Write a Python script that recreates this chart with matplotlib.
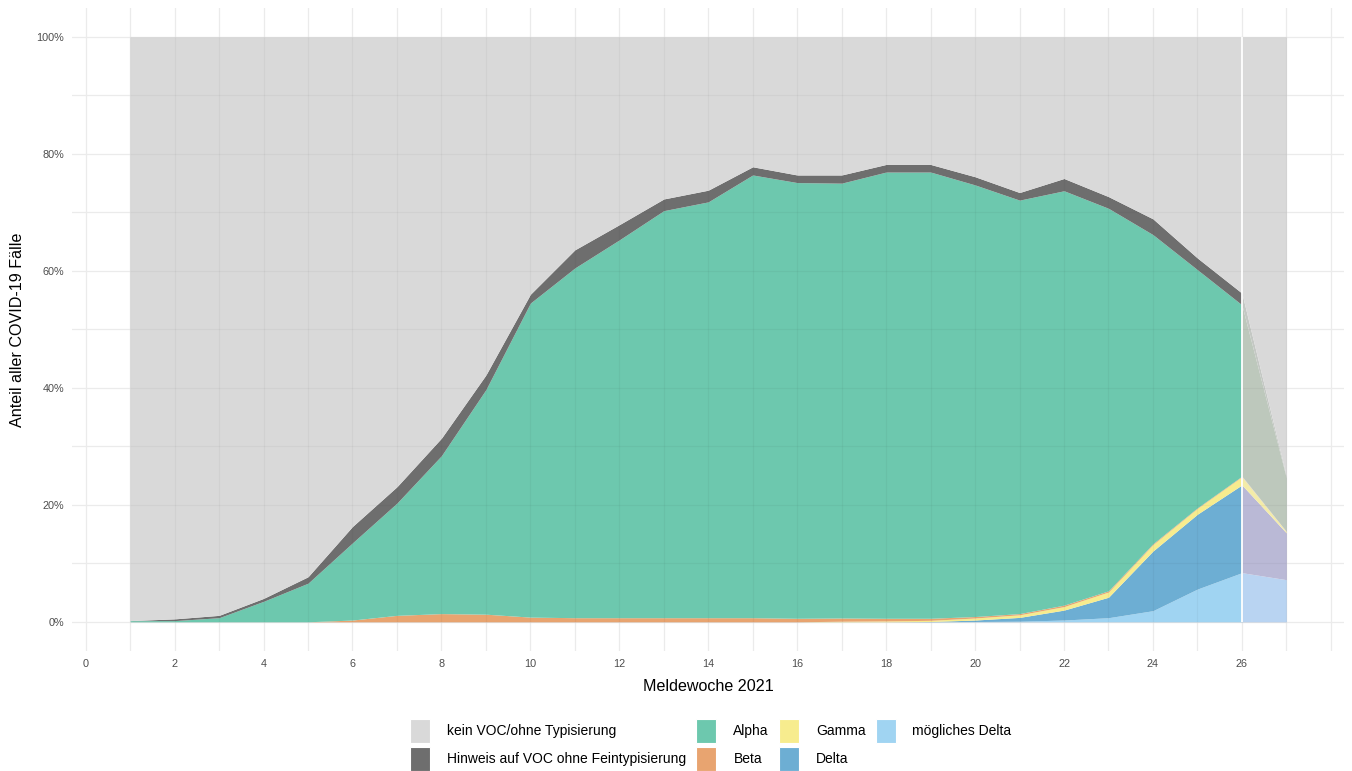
import numpy as np
import matplotlib
matplotlib.use("Agg")
import matplotlib.pyplot as plt
from matplotlib.patches import Rectangle

plt.rcParams['font.family'] = ['Liberation Sans', 'DejaVu Sans']

# ---- data (share of all COVID-19 cases, %) ----
weeks = list(range(1, 28))
moegliches_delta = [0, 0, 0, 0, 0, 0, 0, 0, 0, 0, 0, 0, 0, 0, 0, 0, 0, 0, 0,
                    0.05, 0.1, 0.3, 0.7, 1.9, 5.6, 8.4, 7.2]
delta = [0, 0, 0, 0, 0, 0, 0, 0, 0, 0, 0, 0, 0, 0, 0, 0, 0, 0, 0.05,
         0.25, 0.65, 1.7, 3.5, 10.2, 12.8, 15.0, 8.0]
gamma = [0, 0, 0, 0, 0, 0, 0, 0, 0, 0, 0, 0, 0, 0, 0, 0, 0.1, 0.15, 0.2,
         0.35, 0.45, 0.6, 0.9, 1.1, 1.0, 1.4, 0.2]
beta = [0, 0, 0, 0, 0, 0.3, 1.1, 1.4, 1.3, 0.8, 0.7, 0.7, 0.7, 0.7, 0.7, 0.6,
        0.55, 0.45, 0.35, 0.25, 0.2, 0.25, 0.2, 0.15, 0.1, 0.1, 0.05]
alpha_v = [0.2, 0.2, 0.7, 3.5, 6.6, 13.2, 19.2, 27.0, 38.4, 53.7, 59.8, 64.6,
           69.6, 71.1, 75.7, 74.5, 74.35, 76.3, 76.3, 73.8, 70.7, 70.85, 65.4,
           52.85, 40.7, 29.3, 9.15]
hinweis = [0.0, 0.3, 0.4, 0.5, 1.1, 2.8, 2.8, 3.0, 2.5, 1.5, 3.1, 2.6, 2.0,
           2.0, 1.4, 1.3, 1.4, 1.3, 1.3, 1.4, 1.3, 2.1, 2.0, 2.7, 2.0, 2.0, 0.3]

labels_stack = ["mögliches Delta", "Delta", "Gamma", "Beta", "Alpha",
                "Hinweis auf VOC ohne Feintypisierung", "kein VOC/ohne Typisierung"]
x_ticks = list(range(0, 27, 2))
y_ticks = [0, 20, 40, 60, 80, 100]

w = np.array(weeks, dtype=float)
layers = [np.array(v, dtype=float) for v in
          (moegliches_delta, delta, gamma, beta, alpha_v, hinweis)]
kein = 100.0 - np.sum(layers, axis=0)
layers.append(kein)

colors_main = ['#a0d4f2', '#6daed3', '#f7ec8e', '#e8a470', '#6dc8ae',
               '#6e6e6e', '#d9d9d9']
colors_prelim = ['#b9d4f2', '#bab9d6', '#f4eca8', '#e3c8b0', '#bdc8bc',
                 '#c4c8c4', '#d9d9d9']

fig = plt.figure(figsize=(13.52, 7.71), dpi=100)
ax = fig.add_axes([0.0535, 0.1556, 0.9407, 0.8344])

# background grid (below data)
for gx in np.arange(-1, 29, 1):
    ax.axvline(gx, color='#ebebeb', lw=0.9, zorder=0)
for gy in np.arange(0, 101, 10):
    ax.axhline(gy, color='#ebebeb', lw=0.9, zorder=0)

cum = np.cumsum(layers, axis=0)
base = np.vstack([np.zeros_like(w), cum[:-1]])
n_main = weeks.index(26) + 1
for i in range(len(layers)):
    ax.fill_between(w[:n_main], base[i][:n_main], cum[i][:n_main],
                    color=colors_main[i], lw=0, zorder=1)
    ax.fill_between(w[n_main - 1:], base[i][n_main - 1:], cum[i][n_main - 1:],
                    color=colors_prelim[i], lw=0, zorder=1)

# faint grid shining through the areas
ax.vlines(np.arange(1, 28, 1), 0, 100, color='black', alpha=0.035, lw=0.9, zorder=2)
ax.hlines(np.arange(0, 101, 10), 1, 27, color='black', alpha=0.035, lw=0.9, zorder=2)
ax.vlines([26], 0, 100, color='white', lw=1.3, zorder=3)

ax.set_xlim(-0.3, 28.3)
ax.set_ylim(-5, 105)
ax.set_xticks(x_ticks)
ax.set_xticklabels([str(t) for t in x_ticks])
ax.set_yticks(y_ticks)
ax.set_yticklabels([f"{t}%" for t in y_ticks])
ax.tick_params(length=0, labelsize=7.8, colors='#4d4d4d', pad=6)
for s in ax.spines.values():
    s.set_visible(False)
ax.set_xlabel("Meldewoche 2021", fontsize=11.6, labelpad=7)
ax.set_ylabel("Anteil aller COVID-19 Fälle", fontsize=11.6, labelpad=8)

legend_order = [6, 5, 4, 3, 2, 1, 0]
handles = [Rectangle((0, 0), 1, 1, facecolor=colors_main[i], edgecolor='white', lw=0.8)
           for i in legend_order]
lbls = [labels_stack[i] for i in legend_order]
fig.legend(handles, lbls, loc='upper center', bbox_to_anchor=(711 / 1352, 1 - 712 / 771),
           ncol=4, frameon=False, fontsize=10, handlelength=1.44, handleheight=2.28,
           handletextpad=1.22, columnspacing=0.72, labelspacing=0.3, borderpad=0)

fig.savefig("out.png", dpi=100)
